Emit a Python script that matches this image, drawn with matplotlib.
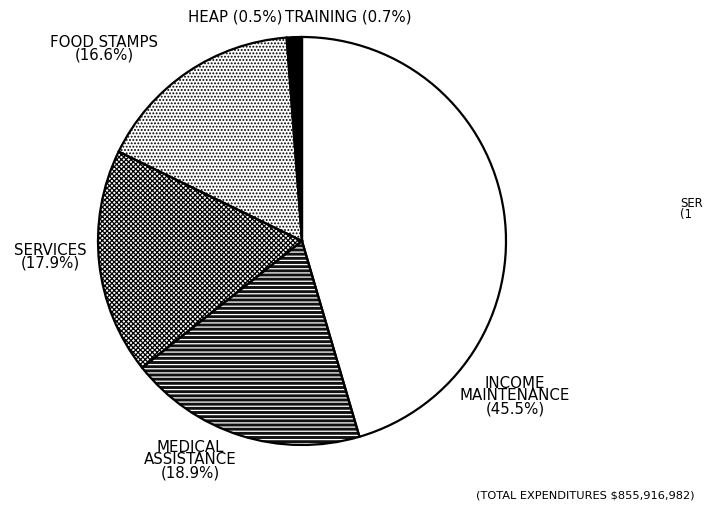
import matplotlib
matplotlib.use("Agg")
import matplotlib.pyplot as plt
from matplotlib.patches import Wedge

# Program expenditure shares (percent), clockwise from 12 o'clock
categories = ["INCOME\nMAINTENANCE", "MEDICAL\nASSISTANCE", "SERVICES",
              "FOOD STAMPS", "HEAP", "TRAINING"]
shares = [45.5, 18.9, 17.9, 16.6, 0.5, 0.7]
total_label = "(TOTAL EXPENDITURES \\$855,916,982)"
# edge of the neighbouring chart's label
neighbour_label = "SER\n(1"

W, H = 704, 518
fig = plt.figure(figsize=(W / 100, H / 100), dpi=100)
ax = fig.add_axes([0, 0, 1, 1])

cx, cy, r = 302, H - 241, 204

# base fills
fills = ["white", "#111111", "white", "white", "black", "black"]
wedges, _ = ax.pie(shares, startangle=90, counterclock=False, center=(cx, cy),
                   radius=r, colors=fills, wedgeprops=dict(linewidth=0))

# texture overlays: (hatch, hatch colour) per slice
textures = [None, ("----", "white"), ("xxxxxxx", "black"), (".....", "black"), None, None]
plt.rcParams["hatch.linewidth"] = 0.9
for w, tex in zip(wedges, textures):
    if tex is None:
        continue
    hatch, hc = tex
    ov = Wedge(w.center, w.r, w.theta1, w.theta2, facecolor="none",
               edgecolor=hc, hatch=hatch, linewidth=0)
    ax.add_patch(ov)

# outlines
for w in wedges:
    ax.add_patch(Wedge(w.center, w.r, w.theta1, w.theta2, facecolor="none",
                       edgecolor="black", linewidth=1.6))

ax.set_xlim(0, W)
ax.set_ylim(0, H)
ax.set_aspect("auto")
ax.axis("off")

font = dict(family="DejaVu Sans", fontsize=10.8, color="black", linespacing=0.8)

def put(x, y, s, ha="center", **kw):
    ax.text(x, H - y, s, ha=ha, va="center", **{**font, **kw})

put(515, 396, f"{categories[0]}\n({shares[0]}%)")
put(190, 460, f"{categories[1]}\n({shares[1]}%)")
put(50, 257, f"{categories[2]}\n({shares[2]}%)")
put(104, 49, f"{categories[3]}\n({shares[3]}%)")
put(283, 17, f"{categories[4]} ({shares[4]}%)", ha="right")
put(285, 17, f"{categories[5]} ({shares[5]}%)", ha="left")
put(695, 495, total_label, ha="right", fontsize=8.2)
put(680, 209, neighbour_label, ha="left", fontsize=8.4, linespacing=0.75)

fig.savefig("out.png", dpi=100, facecolor="white")
